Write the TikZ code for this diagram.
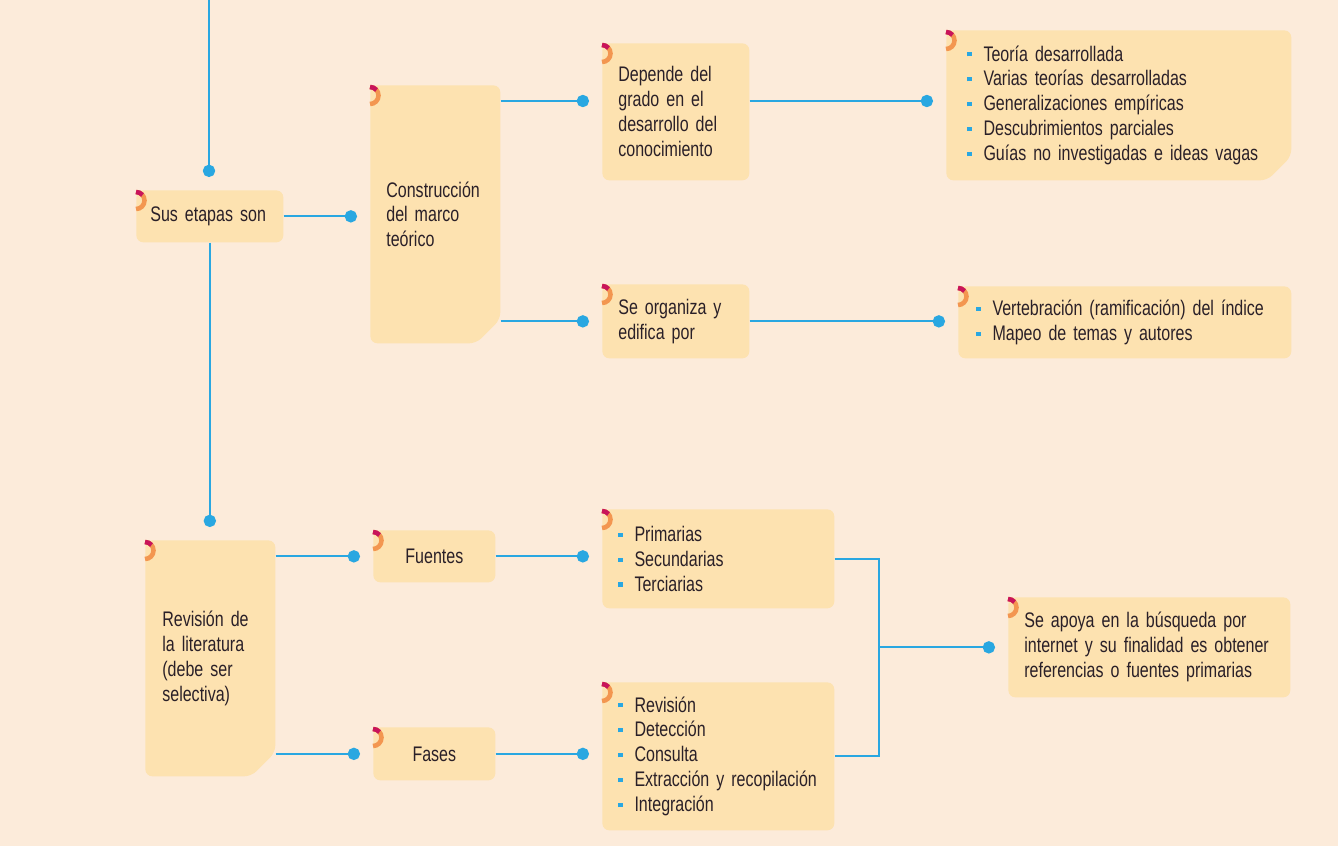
\documentclass[tikz,border=0pt]{standalone}
\usepackage{fontspec}
\setmainfont[FakeStretch=0.76, WordSpace=0.7]{Liberation Sans}
\usetikzlibrary{arrows.meta,shapes.misc}
\definecolor{bg}{RGB}{252,235,218}
\definecolor{boxfill}{RGB}{253,226,176}
\definecolor{ink}{RGB}{42,32,40}
\definecolor{linkblue}{RGB}{41,167,225}
\definecolor{flagred}{RGB}{200,20,90}
\definecolor{flagorange}{RGB}{243,150,80}
\hyphenpenalty=10000
\newcommand{\itm}{\textcolor{linkblue}{\rule[0.22em]{2.4pt}{2.4pt}}\hspace{6.8pt}}
\tikzset{
  box/.style={fill=boxfill, text=ink, rounded corners=4pt, anchor=north west, align=left,
    inner xsep=0.32cm, inner ysep=0pt, font=\fontsize{12}{14.2}\selectfont},
  cbox/.style={box, chamfered rectangle, chamfered rectangle corners=south east,
    chamfered rectangle xsep=0.24cm, chamfered rectangle ysep=0.24cm, inner xsep=0.08cm},
  line/.style={draw=linkblue, line width=1.2pt, -{Circle[length=7pt]}, shorten >=0.26cm},
  plain/.style={draw=linkblue, line width=1.2pt},
  flag/.pic={
    \draw[flagorange, line width=2.6pt] (0,-0.04cm) arc[start angle=90, end angle=-90, radius=0.17cm];
    \draw[flagred, line width=2.6pt] (0,-0.04cm) arc[start angle=90, end angle=40, radius=0.17cm];
  }
}
\begin{document}
\begin{tikzpicture}[x=0.02cm, y=-0.02cm]
\useasboundingbox (0,0) rectangle (1338,846);
\fill[bg] (0,0) rectangle (1338,846);

\node (A) at (136,190) [box, inner xsep=0.28cm, text width=2.38cm, minimum height=1.04cm]{Sus etapas son};
\node (B) at (370,85) [cbox, text width=1.96cm, minimum height=5.16cm]{Construcción\\del marco\\teórico};
\node (C) at (602,43) [box, text width=2.30cm, minimum height=2.74cm]{Depende del\\grado en el\\desarrollo del\\conocimiento};
\node (D) at (946,30) [cbox, inner xsep=0.18cm, text width=6.06cm, minimum height=3.0cm]{\itm Teoría desarrollada\\\itm Varias teorías desarrolladas\\\itm Generalizaciones empíricas\\\itm Descubrimientos parciales\\\itm Guías no investigadas e ideas vagas};
\node (E) at (602,284) [box, text width=2.30cm, minimum height=1.48cm]{Se organiza y\\edifica por};
\node (F) at (958,286) [box, inner xsep=0.36cm, text width=5.94cm, minimum height=1.44cm]{\itm Vertebración (ramificación) del índice\\\itm Mapeo de temas y autores};
\node (G) at (145,540) [cbox, inner xsep=0.10cm, text width=1.92cm, minimum height=4.72cm]{Revisión de\\la literatura\\(debe ser\\selectiva)};
\node (H) at (373,530) [box, align=center, text width=1.80cm, minimum height=1.04cm]{Fuentes};
\node (I) at (373,727) [box, align=center, text width=1.80cm, minimum height=1.06cm]{Fases};
\node (J) at (602,509) [box, text width=4.00cm, minimum height=1.98cm]{\itm Primarias\\\itm Secundarias\\\itm Terciarias};
\node (K) at (602,682) [box, text width=4.00cm, minimum height=2.96cm]{\itm Revisión\\\itm Detección\\\itm Consulta\\\itm Extracción y recopilación\\\itm Integración};
\node (L) at (1008,597) [box, text width=5.00cm, minimum height=2.0cm]{Se apoya en la búsqueda por\\internet y su finalidad es obtener\\referencias o fuentes primarias};

\foreach \n in {A,B,C,D,E,F,G,H,I,J,K,L}
  \pic at (\n.north west) {flag};

\coordinate (T) at (209,0);
\coordinate (B1) at ([yshift=-0.32cm]B.north east);
\coordinate (Q) at ([xshift=0.88cm]J.east);

\draw[line] (T) -- (T |- A.north);
\draw[line] (A.south) -- (A.south |- G.north);
\draw[line] (A.east) -- (A.east -| B.west);
\draw[line] (B1) -- (B1 -| C.west);
\draw[line] (B.east |- E.west) -- (E.west);
\draw[line] (C.east |- B1) -- (B1 -| D.west);
\draw[line] (E.east) -- (E.east -| F.west);
\draw[line] (G.east |- H.west) -- (H.west);
\draw[line] (G.east |- I.west) -- (I.west);
\draw[line] (H.east) -- (H.east -| J.west);
\draw[line] (I.east) -- (I.east -| K.west);
\draw[plain] (J.east) -- (Q) |- (K.east);
\draw[line] (Q |- L.west) -- (L.west);

\end{tikzpicture}
\end{document}
